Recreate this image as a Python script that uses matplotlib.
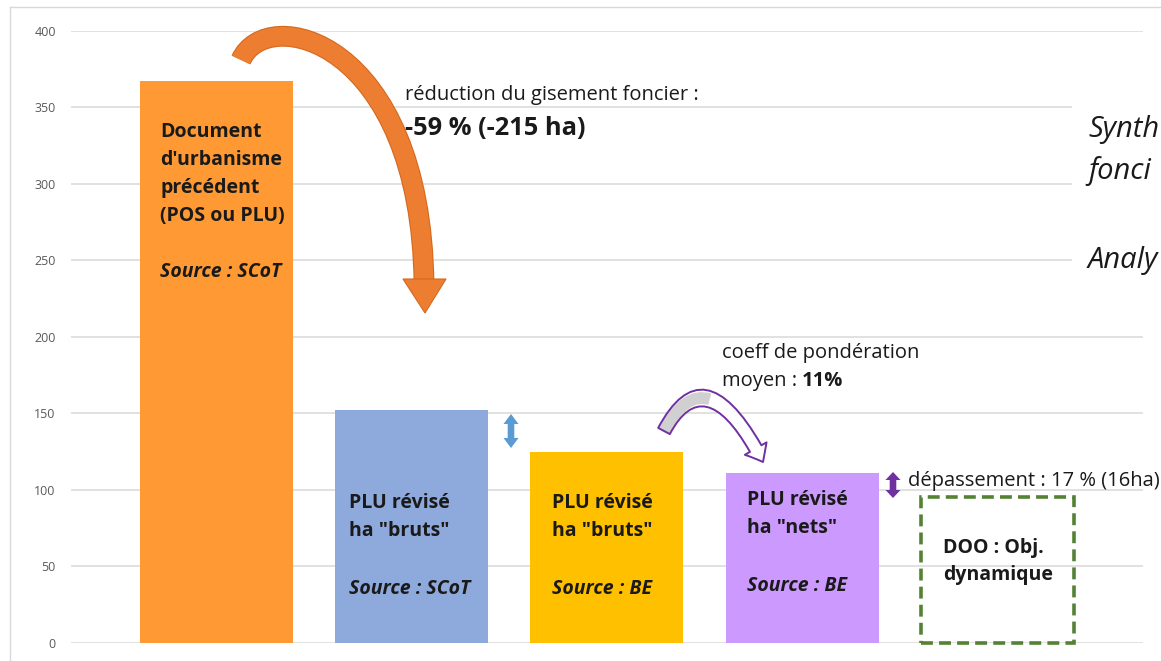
import matplotlib
matplotlib.use("Agg")
import matplotlib.pyplot as plt
from matplotlib.patches import FancyArrowPatch, Rectangle, PathPatch, Polygon
from matplotlib.path import Path
from matplotlib.lines import Line2D

plt.rcParams['font.family'] = ['Open Sans', 'DejaVu Sans']

W, H = 1161, 661

# ---------------- data ----------------
categories = ["Document d'urbanisme précédent", "PLU révisé bruts (SCoT)",
              "PLU révisé bruts (BE)", "PLU révisé nets (BE)", "DOO : Obj. dynamique"]
values = [367, 152, 125, 111, 95]
bar_colors = ['#FF9933', '#8EA9DB', '#FFC000', '#CC99FF']
yticks = [0, 50, 100, 150, 200, 250, 300, 350, 400]
bar_titles = [["Document", "d'urbanisme", "précédent", "(POS ou PLU)"],
              ["PLU révisé", 'ha "bruts"'],
              ["PLU révisé", 'ha "bruts"'],
              ["PLU révisé", 'ha "nets"'],
              ["DOO : Obj.", "dynamique"]]
bar_sources = ["Source : SCoT", "Source : SCoT", "Source : BE", "Source : BE", ""]

# ---------------- figure ----------------
fig = plt.figure(figsize=(W / 100, H / 100), dpi=100)


def fx(x):
    return x / W


def fy(y):
    return 1 - y / H


def fp(x, y):
    return (fx(x), fy(y))


ax = fig.add_axes([fx(71), fy(642.7), fx(1143) - fx(71), fy(31) - fy(642.7)])
xs = list(range(len(values)))
width = 0.784
ax.bar(xs[:4], values[:4], width=width, color=bar_colors, zorder=2)
ax.bar(xs[4], values[4], width=width, fill=False, edgecolor='#548235',
       linewidth=2.6, linestyle=(0, (3.3, 1.7)), zorder=2, clip_on=False)
ax.set_xlim(-0.7454, 4.746)
ax.set_ylim(0, 400)
ax.set_yticks(yticks)
ax.set_yticklabels([str(v) for v in yticks])
ax.set_xticks([])
ax.yaxis.grid(True, color='#D9D9D9', linewidth=1.1)
ax.set_axisbelow(True)
for s in ax.spines.values():
    s.set_visible(False)
ax.tick_params(axis='y', length=0, pad=11, labelsize=9, labelcolor='#595959')

# outer frame (top & left)
fig.add_artist(Line2D([fx(10), fx(1161)], [fy(7), fy(7)], color='#D9D9D9', lw=1.0))
fig.add_artist(Line2D([fx(10), fx(10)], [fy(7), fy(661)], color='#D9D9D9', lw=1.0))

# ---------------- bar texts ----------------
bar_text_pos = [(160, [137, 165, 193, 221], 277),
                (349, [508, 536], 594),
                (552, [508, 536], 594),
                (747, [505, 533], 591),
                (943, [553, 580], None)]
for i, (x0, bls, sb) in enumerate(bar_text_pos):
    for line, bl in zip(bar_titles[i], bls):
        fig.text(fx(x0), fy(bl), line, fontsize=14, fontweight='bold',
                 color='#1a1a1a', ha='left', va='baseline', zorder=6)
    if sb is not None and bar_sources[i]:
        fig.text(fx(x0), fy(sb), bar_sources[i], fontsize=14, fontweight='bold',
                 fontstyle='italic', color='#1a1a1a', ha='left', va='baseline', zorder=6)

# ---------------- annotations ----------------
fig.text(fx(405), fy(100), "réduction du gisement foncier :", fontsize=14.5,
         color='#1a1a1a', va='baseline', zorder=6)
fig.text(fx(405), fy(135), "-59 % (-215 ha)", fontsize=18.3, fontweight='bold',
         color='#1a1a1a', va='baseline', zorder=6)
fig.text(fx(722), fy(358), "coeff de pondération", fontsize=14.5,
         color='#1a1a1a', va='baseline', zorder=6)
fig.text(fx(722), fy(386), "moyen :", fontsize=14.5,
         color='#1a1a1a', va='baseline', zorder=6)
fig.text(fx(802), fy(386), "11%", fontsize=14.5, fontweight='bold',
         color='#1a1a1a', va='baseline', zorder=6)
fig.text(fx(908), fy(486), "dépassement : 17 % (16ha)", fontsize=14.5,
         color='#1a1a1a', va='baseline', zorder=6)

# side panel (white cover + cut-off italic text)
fig.add_artist(Rectangle(fp(1072, 320), fx(1161) - fx(1072), fy(50) - fy(320),
                         transform=fig.transFigure, facecolor='white',
                         edgecolor='none', zorder=3))
for txt, bl in [("Synth", 137), ("fonci", 179), ("Analy", 268)]:
    fig.text(fx(1088), fy(bl), txt, fontsize=21, fontstyle='italic',
             color='#1a1a1a', va='baseline', zorder=6)

# ---------------- arrows ----------------
# big orange curved arrow: thick cubic body + triangular head
body = Path([fp(241, 60), fp(266, 3), fp(421, 38), fp(424, 284)],
            [Path.MOVETO, Path.CURVE4, Path.CURVE4, Path.CURVE4])
fig.add_artist(PathPatch(body, transform=fig.transFigure, facecolor='none',
                         edgecolor='#D4691E', lw=15.0, capstyle='butt', zorder=4))
fig.add_artist(PathPatch(body, transform=fig.transFigure, facecolor='none',
                         edgecolor='#ED7D31', lw=13.4, capstyle='butt', zorder=4.1))
fig.add_artist(Polygon([fp(403, 279), fp(446, 279), fp(425, 313)], closed=True,
                       transform=fig.transFigure, facecolor='#ED7D31',
                       edgecolor='#D4691E', lw=0.8, zorder=4.2))

# purple outlined curved arrow (gray-to-white fill)
A2, C2, B2 = fp(664, 431), fp(706, 352), fp(763, 462)
pth = Path([A2, C2, B2], [Path.MOVETO, Path.CURVE3, Path.CURVE3])
style2 = 'simple,head_length=11,head_width=18,tail_width=9.5'
fig.add_artist(FancyArrowPatch(path=pth, arrowstyle=style2, mutation_scale=1,
                               transform=fig.transFigure, facecolor='white',
                               edgecolor='none', zorder=4))
t = 0.5
P01 = (A2[0] + (C2[0] - A2[0]) * t, A2[1] + (C2[1] - A2[1]) * t)
P12 = (C2[0] + (B2[0] - C2[0]) * t, C2[1] + (B2[1] - C2[1]) * t)
Pm = (P01[0] + (P12[0] - P01[0]) * t, P01[1] + (P12[1] - P01[1]) * t)
fig.add_artist(PathPatch(Path([A2, P01, Pm], [Path.MOVETO, Path.CURVE3, Path.CURVE3]),
                         transform=fig.transFigure, facecolor='none',
                         edgecolor='#D0D0D0', lw=8.5, capstyle='butt', zorder=4.5))
fig.add_artist(FancyArrowPatch(path=pth, arrowstyle=style2, mutation_scale=1,
                               transform=fig.transFigure, facecolor='none',
                               edgecolor='#7030A0', lw=1.4, zorder=5))


def double_arrow(x, y1, y2, hw, hl, sw, color):
    pts = [(x, y1), (x + hw, y1 + hl), (x + sw, y1 + hl), (x + sw, y2 - hl),
           (x + hw, y2 - hl), (x, y2), (x - hw, y2 - hl), (x - sw, y2 - hl),
           (x - sw, y1 + hl), (x - hw, y1 + hl)]
    fig.add_artist(Polygon([fp(px, py) for px, py in pts], closed=True,
                           transform=fig.transFigure, facecolor=color,
                           edgecolor='none', zorder=5))


double_arrow(511, 414, 448, 7.5, 10, 3.3, '#5B9BD5')
double_arrow(893, 472, 498, 7.5, 8, 3.3, '#7030A0')

fig.savefig("out.png", dpi=100)
